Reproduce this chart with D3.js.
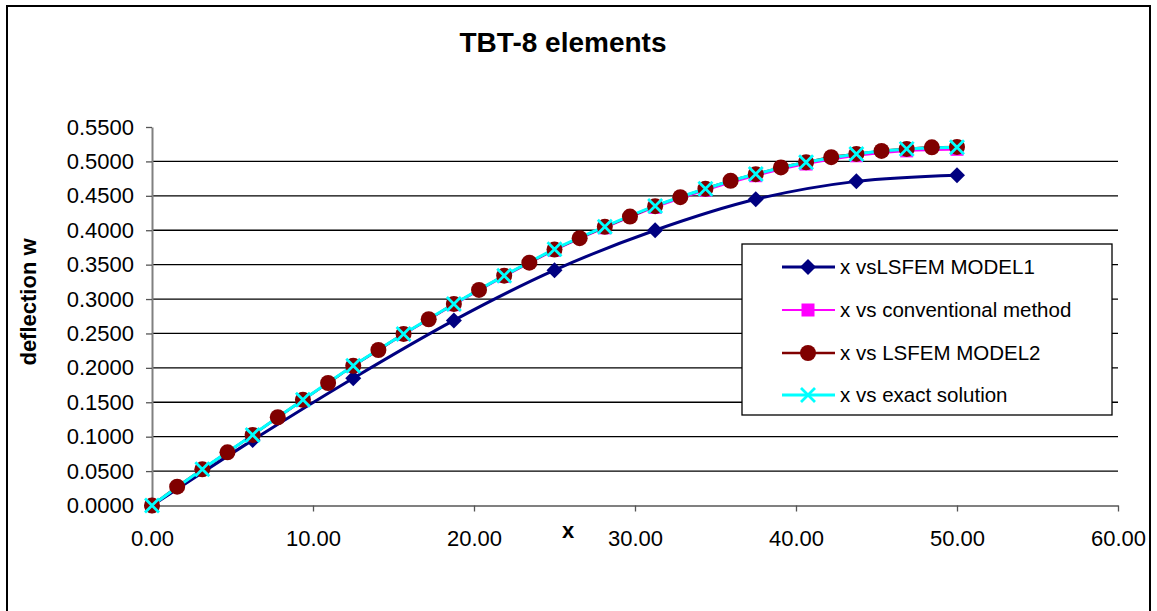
<!DOCTYPE html>
<html>
<head>
<meta charset="utf-8">
<script src="https://cdn.jsdelivr.net/npm/d3@7/dist/d3.min.js"></script>
<style>
  body { margin: 0; background: #fff; }
  text { font-family: "Liberation Sans", Arial, sans-serif; }
</style>
</head>
<body>
<svg id="chart"></svg>
<script>
// data
const xTicks = [0, 10, 20, 30, 40, 50, 60];
const yTicks = [0, 0.05, 0.1, 0.15, 0.2, 0.25, 0.3, 0.35, 0.4, 0.45, 0.5, 0.55];

const model1X = [0, 6.25, 12.5, 18.75, 25, 31.25, 37.5, 43.75, 50];
const model1W = [0, 0.095, 0.185, 0.269, 0.342, 0.400, 0.445, 0.471, 0.480];

const convX = [0, 3.125, 6.25, 9.375, 12.5, 15.625, 18.75, 21.875, 25, 28.125, 31.25, 34.375, 37.5, 40.625, 43.75, 46.875, 50];
const convW = [0, 0.0525, 0.1022, 0.1530, 0.2025, 0.2485, 0.2918, 0.3328, 0.3708, 0.4035, 0.4333, 0.4582, 0.4792, 0.4962, 0.5082, 0.5153, 0.5176];

const model2X = [0, 1.5625, 3.125, 4.6875, 6.25, 7.8125, 9.375, 10.9375, 12.5, 14.0625, 15.625, 17.1875, 18.75, 20.3125, 21.875, 23.4375, 25,
  26.5625, 28.125, 29.6875, 31.25, 32.8125, 34.375, 35.9375, 37.5, 39.0625, 40.625, 42.1875, 43.75, 45.3125, 46.875, 48.4375, 50];
const model2W = [0, 0.0273, 0.0526, 0.0773, 0.1025, 0.1282, 0.1535, 0.1780, 0.2030, 0.2260, 0.2493, 0.2706, 0.2929, 0.3132, 0.3340, 0.3529, 0.3720,
  0.3884, 0.4050, 0.4198, 0.4350, 0.4480, 0.4603, 0.4719, 0.4815, 0.4913, 0.4988, 0.5061, 0.5109, 0.5153, 0.5182, 0.5204, 0.5210];

const exactX = [0, 3.125, 6.25, 9.375, 12.5, 15.625, 18.75, 21.875, 25, 28.125, 31.25, 34.375, 37.5, 40.625, 43.75, 46.875, 50];
const exactW = [0, 0.0526, 0.1026, 0.1536, 0.2032, 0.2493, 0.2929, 0.3340, 0.3724, 0.4052, 0.4353, 0.4603, 0.4816, 0.4988, 0.5109, 0.5182, 0.5206];

const seriesNames = ["x vsLSFEM MODEL1", "x vs conventional method", "x vs LSFEM MODEL2", "x vs exact solution"];

const W = 1157, H = 611;
const svg = d3.select("#chart").attr("width", W).attr("height", H);

// chart area border
svg.append("rect")
  .attr("x", 7).attr("y", 6)
  .attr("width", 1143).attr("height", 620)
  .attr("fill", "#fff")
  .attr("stroke", "#000")
  .attr("stroke-width", 2);

const x = d3.scaleLinear().domain([0, 60]).range([152, 1118]);
const y = d3.scaleLinear().domain([0, 0.55]).range([505.5, 127]);

// gridlines
svg.append("g").selectAll("line")
  .data(yTicks.filter(d => d > 0 && d < 0.55))
  .enter().append("line")
  .attr("x1", x(0)).attr("x2", x(60))
  .attr("y1", d => y(d)).attr("y2", d => y(d))
  .attr("stroke", "#000")
  .attr("stroke-width", 1.3);

// axes
const yAxis = svg.append("g")
  .attr("transform", `translate(${x(0)},0)`)
  .call(d3.axisLeft(y).tickValues(yTicks).tickSize(6).tickSizeOuter(0).tickPadding(12).tickFormat(d3.format(".4f")));
const xAxis = svg.append("g")
  .attr("transform", `translate(0,${y(0)})`)
  .call(d3.axisBottom(x).tickValues(xTicks).tickSize(6).tickSizeOuter(0).tickPadding(19).tickFormat(d3.format(".2f")));

[yAxis, xAxis].forEach(g => {
  g.select(".domain").attr("stroke", "#808080").attr("stroke-width", 2);
  g.selectAll(".tick line").attr("stroke", "#555").attr("stroke-width", 1.3);
  g.selectAll(".tick text")
    .attr("font-size", "22px")
    .attr("font-family", "Liberation Sans, Arial, sans-serif")
    .attr("fill", "#000");
});

// titles
svg.append("text")
  .attr("x", 563).attr("y", 52)
  .attr("text-anchor", "middle")
  .attr("font-size", "28px").attr("font-weight", "bold")
  .text("TBT-8 elements");

svg.append("text")
  .attr("transform", "translate(36,302) rotate(-90)")
  .attr("text-anchor", "middle")
  .attr("font-size", "22px").attr("font-weight", "bold")
  .text("deflection w");

svg.append("text")
  .attr("x", 568).attr("y", 538)
  .attr("text-anchor", "middle")
  .attr("font-size", "22px").attr("font-weight", "bold")
  .text("x");

// series
const zip = (xs, ws) => xs.map((v, i) => ({ x: v, w: ws[i] }));
const series = [
  { name: seriesNames[0], data: zip(model1X, model1W), color: "#000080", width: 3, marker: "diamond" },
  { name: seriesNames[1], data: zip(convX, convW), color: "#ff00ff", width: 2.2, marker: "square" },
  { name: seriesNames[2], data: zip(model2X, model2W), color: "#800000", width: 2.5, marker: "circle" },
  { name: seriesNames[3], data: zip(exactX, exactW), color: "#00ffff", width: 3, marker: "cross" }
];

const line = d3.line()
  .x(d => x(d.x))
  .y(d => y(d.w))
  .curve(d3.curveCatmullRom.alpha(0.5));

function drawMarker(g, type, color) {
  if (type === "diamond") {
    g.append("path").attr("d", "M0,-8L8,0L0,8L-8,0Z").attr("fill", color);
  } else if (type === "square") {
    g.append("rect").attr("x", -6.5).attr("y", -6.5).attr("width", 13).attr("height", 13).attr("fill", color);
  } else if (type === "circle") {
    g.append("circle").attr("r", 8).attr("fill", color);
  } else {
    g.append("path").attr("d", "M-7,-7L7,7M-7,7L7,-7")
      .attr("stroke", color).attr("stroke-width", 2.8).attr("fill", "none");
  }
}

const lines = svg.append("g");
series.forEach(s => {
  lines.append("path")
    .attr("d", line(s.data))
    .attr("fill", "none")
    .attr("stroke", s.color)
    .attr("stroke-width", s.width)
    .attr("stroke-linejoin", "round");
});

const markers = svg.append("g");
series.forEach(s => {
  s.data.forEach(d => {
    const g = markers.append("g").attr("transform", `translate(${x(d.x)},${y(d.w)})`);
    drawMarker(g, s.marker, s.color);
  });
});

// legend
const legend = svg.append("g");
legend.append("rect")
  .attr("x", 742).attr("y", 244)
  .attr("width", 370).attr("height", 171)
  .attr("fill", "#fff")
  .attr("stroke", "#000")
  .attr("stroke-width", 1.3);

const legendY = [267, 310, 353, 395];
series.forEach((s, i) => {
  const ly = legendY[i];
  legend.append("line")
    .attr("x1", 782).attr("x2", 835)
    .attr("y1", ly).attr("y2", ly)
    .attr("stroke", s.color)
    .attr("stroke-width", s.width);
  drawMarker(legend.append("g").attr("transform", `translate(808,${ly})`), s.marker, s.color);
  legend.append("text")
    .attr("x", 840).attr("y", ly)
    .attr("dy", "0.36em")
    .attr("font-size", "20.5px")
    .text(s.name);
});
</script>
</body>
</html>
